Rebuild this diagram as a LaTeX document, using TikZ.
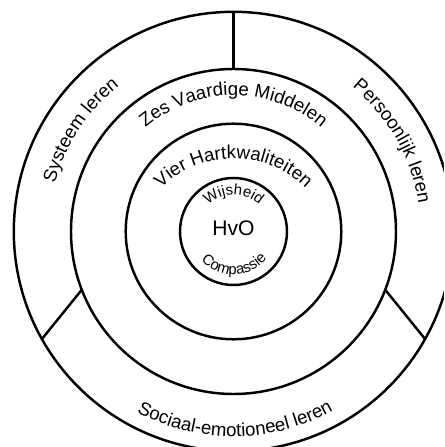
\documentclass[tikz,border=0pt]{standalone}
\usepackage{fontspec}
\setmainfont{Liberation Sans}
\usetikzlibrary{decorations.text}
\newcommand{\ringfont}{\fontsize{10.6}{12}\selectfont}
\newcommand{\corefont}{\fontsize{8.5}{10}\selectfont}
\tikzset{
  ring/.style={line width=1.4pt},
  ringlabel/.style={decorate, decoration={text along path, text align=center, text={#1}}}
}

\begin{document}
\begin{tikzpicture}
\useasboundingbox (-4.67,-4.31) rectangle (4.21,4.63);
\clip (-4.67,-4.31) rectangle (4.21,4.63);
\draw[ring] (0,0) circle (1.07); % HvO
\draw[ring] (0,0) circle (2.156);
\draw[ring] (0,0) circle (3.25);
\draw[ring] (0,0) circle (4.394);
\draw[ring] (90:3.25) -- (90:4.394);
\draw[ring] (201:3.25) -- (209.3:4.394);
\draw[ring] (-21:3.25) -- (-29.3:4.394);
\node[font=\fontsize{12}{14}\selectfont] (hvo) at (0,0.06) {HvO};
% core
\corefont
\path[ringlabel={Wijsheid}] (170:0.74) arc[start angle=170, end angle=10, radius=0.74];
\path[ringlabel={Compassie}] (191:0.86) arc[start angle=191, end angle=351, radius=0.86];
% rings
\ringfont
\path[shift={(0,-0.6)}, ringlabel={Vier Hartkwaliteiten}] (160:2.06) arc[start angle=160, end angle=20, radius=2.06];
\path[ringlabel={Zes Vaardige Middelen}] (160:2.72) arc[start angle=160, end angle=20, radius=2.72];
\path[ringlabel={Systeem leren}] (207:3.70) arc[start angle=207, end angle=86, radius=3.70];
\path[ringlabel={Persoonlijk leren}] (90:3.74) arc[start angle=90, end angle=-31, radius=3.74];
\path[ringlabel={Sociaal-emotioneel leren}] (200.5:4.10) arc[start angle=200.5, end angle=340.5, radius=4.10];
\end{tikzpicture}
\end{document}
